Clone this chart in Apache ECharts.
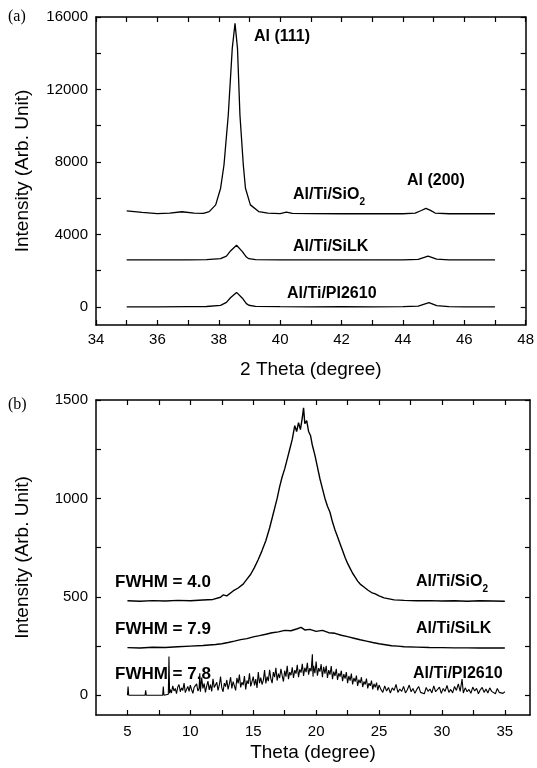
<!DOCTYPE html>
<html>
<head>
<meta charset="utf-8">
<script src="https://cdn.jsdelivr.net/npm/echarts@6/dist/echarts.min.js"></script>
<style>
    html, body { margin: 0; padding: 0; background: #fff; }
    #chart { width: 537px; height: 768px; }
</style>
</head>
<body>
<div id="chart"></div>
<script>
// (a) XRD 2theta scans, [2theta, intensity]
const sio2Scan = [[35,5300],[35.5,5220],[36,5150],[36.4,5170],[36.8,5250],[37.2,5170],[37.5,5160],[37.69,5260],[37.9,5630],[38.06,6550],[38.17,7830],[38.31,10590],[38.44,14270],[38.53,15650],[38.61,14270],[38.69,10590],[38.8,7830],[38.87,6550],[39.03,5630],[39.3,5260],[39.6,5170],[40,5150],[40.2,5230],[40.4,5160],[41,5150],[42,5140],[43,5150],[44,5140],[44.4,5180],[44.6,5320],[44.75,5440],[44.9,5330],[45.05,5180],[45.5,5140],[46,5150],[46.5,5140],[47,5140]];
const silkScan = [[35,2600],[36,2590],[37,2590],[37.6,2610],[38.06,2660],[38.25,2800],[38.39,3100],[38.58,3400],[38.77,3050],[38.9,2750],[38.98,2660],[39.2,2610],[40,2600],[41,2590],[42,2600],[43,2590],[44,2590],[44.5,2620],[44.82,2800],[45.1,2640],[45.5,2600],[46,2590],[47,2590]];
const piScan = [[35,0],[36,0],[37,10],[37.6,20],[38.06,80],[38.25,250],[38.39,520],[38.58,800],[38.77,480],[38.9,180],[38.98,90],[39.2,30],[40,10],[41,0],[42,10],[43,0],[44,10],[44.5,40],[44.85,230],[45.1,70],[45.5,10],[46,0],[47,0]];

// (b) rocking curves, [theta, intensity]
const sio2Rock = [[5,480],[6,478],[7,481],[8,479],[9,482],[10,480],[11,484],[11.8,487],[12.4,498],[12.6,510],[12.9,505],[13.4,530],[13.8,545],[14.2,565],[14.5,590],[14.8,615],[15.1,650],[15.4,690],[15.7,735],[16.0,785],[16.3,850],[16.6,925],[16.9,1000],[17.1,1060],[17.3,1110],[17.5,1150],[17.7,1200],[17.9,1250],[18.1,1300],[18.3,1370],[18.45,1340],[18.6,1385],[18.75,1350],[18.9,1410],[19.0,1460],[19.1,1380],[19.25,1395],[19.4,1340],[19.55,1320],[19.7,1270],[19.9,1220],[20.1,1160],[20.3,1100],[20.5,1050],[20.7,1000],[20.9,960],[21.1,930],[21.3,880],[21.5,840],[21.7,805],[21.9,770],[22.1,735],[22.3,700],[22.5,670],[22.7,645],[22.9,620],[23.1,600],[23.3,580],[23.5,565],[23.8,550],[24.1,535],[24.4,522],[24.7,515],[25.0,505],[25.4,495],[25.8,490],[26.2,485],[27,482],[28,480],[29,481],[30,479],[31,480],[32,478],[33,480],[34,479],[35,478]];
const silkRock = [[5,242],[6,240],[7,244],[8,243],[9,247],[10,250],[11,253],[12,258],[12.5,262],[13,268],[13.5,275],[14,283],[14.5,288],[15,297],[15.5,303],[16,310],[16.5,318],[17,322],[17.5,330],[18,328],[18.5,338],[18.8,345],[19.1,332],[19.5,335],[20,325],[20.5,330],[21,318],[21.5,315],[22,305],[22.5,298],[23,290],[23.5,282],[24,275],[24.5,268],[25,262],[25.5,257],[26,252],[26.5,250],[27,247],[28,245],[29,243],[30,242],[31,241],[32,241],[33,240],[34,240],[35,240]];
const piRock = [[5,0],[5.05,45],[5.1,0],[6.4,0],[6.45,25],[6.5,0],[7.8,0],[7.85,45],[7.9,0],[8.25,5],[8.3,197],[8.35,10],
    [8.4,30],[8.5,12],[8.6,48],[8.7,22],[8.8,35],[8.9,8],[9.0,42],[9.1,55],[9.2,18],[9.3,38],[9.4,25],[9.5,62],[9.6,14],[9.7,30],[9.8,45],[9.9,20],[10.0,52],[10.1,28],[10.2,10],[10.3,40],[10.4,33],[10.5,58],[10.6,22],[10.7,36],[10.75,112],[10.8,18],
    [10.9,90],[11.0,35],[11.1,60],[11.2,15],[11.3,48],[11.4,72],[11.5,28],[11.6,55],[11.7,20],[11.8,84],[11.9,40],[12.0,30],[12.1,66],[12.2,25],[12.3,50],[12.4,95],[12.5,38],[12.6,18],[12.7,62],[12.8,44],[12.9,78],[13.0,30],
    [13.1,58],[13.2,92],[13.3,35],[13.4,70],[13.5,48],[13.6,25],[13.7,88],[13.8,60],[13.9,105],[14.0,40],[14.1,66],[14.2,52],[14.3,98],[14.4,30],[14.5,75],[14.6,58],[14.7,112],[14.8,45],[14.9,70],[15.0,95],[15.1,50],[15.2,82],[15.3,38],[15.4,118],[15.5,62],[15.6,90],[15.7,55],[15.8,76],[15.9,128],[16.0,60],
    [16.1,95],[16.2,72],[16.3,130],[16.4,85],[16.5,62],[16.6,118],[16.7,92],[16.8,140],[16.9,75],[17.0,110],[17.1,88],[17.2,135],[17.3,100],[17.4,70],[17.5,125],[17.6,95],[17.7,150],[17.8,82],[17.9,118],[18.0,102],[18.1,142],[18.2,88],[18.3,128],[18.4,110],[18.5,155],[18.6,92],[18.7,132],[18.8,115],[18.9,160],[19.0,98],
    [19.1,140],[19.2,118],[19.3,165],[19.4,105],[19.5,138],[19.6,122],[19.7,208],[19.75,95],[19.8,150],[19.9,112],[20.0,172],[20.1,100],[20.2,138],[20.3,120],[20.4,158],[20.5,92],[20.6,145],[20.7,110],[20.8,150],[20.9,88],[21.0,128],[21.1,105],[21.2,148],[21.3,82],[21.4,120],[21.5,98],[21.6,135],[21.7,78],[21.8,112],[21.9,95],[22.0,125],
    [22.1,72],[22.2,108],[22.3,85],[22.4,118],[22.5,62],[22.6,98],[22.7,75],[22.8,110],[22.9,55],[23.0,88],[23.1,70],[23.2,100],[23.3,48],[23.4,80],[23.5,62],[23.6,92],[23.7,42],[23.8,70],[23.9,55],[24.0,85],[24.1,35],[24.2,62],[24.3,48],[24.4,75],[24.5,30],[24.6,58],[24.7,40],[24.8,65],[24.9,25],[25.0,52],
    [25.15,30],[25.3,15],[25.45,48],[25.6,22],[25.75,40],[25.9,12],[26.05,38],[26.2,25],[26.35,55],[26.5,15],[26.65,32],[26.8,20],[26.95,45],[27.1,12],[27.25,28],[27.4,52],[27.55,18],[27.7,35],[27.85,10],[28.0,30],[28.15,45],[28.3,15],[28.45,25],[28.6,8],[28.75,40],[28.9,20],[29.05,32],[29.2,12],[29.35,48],[29.5,18],[29.65,28],[29.8,42],[29.95,10],[30.1,35],[30.25,20],[30.4,50],[30.55,15],[30.7,30],[30.85,12],[31.0,45],[31.15,25],[31.3,58],[31.45,20],[31.6,82],[31.7,12],[31.85,38],[32.0,18],[32.15,30],[32.3,10],[32.45,42],[32.6,22],[32.75,35],[32.9,8],[33.05,28],[33.2,40],[33.35,15],[33.5,32],[33.65,12],[33.8,38],[33.95,20],[34.1,28],[34.25,8],[34.4,35],[34.55,15],[34.7,25],[34.85,10],[35.0,18]];

// ticks and tick labels
const xTicksA = [34,35,36,37,38,39,40,41,42,43,44,45,46,47,48];
const xLabelsA = [34,36,38,40,42,44,46,48];
const yTicksA = [0,2000,4000,6000,8000,10000,12000,14000,16000];
const yLabelsA = [0,4000,8000,12000,16000];
const xTicksB = [5,7.5,10,12.5,15,17.5,20,22.5,25,27.5,30,32.5,35];
const xLabelsB = [5,10,15,20,25,30,35];
const yTicksB = [0,250,500,750,1000,1250,1500];
const yLabelsB = [0,500,1000,1500];

const FONT = '"Liberation Sans", Arial, sans-serif';
var myChart = echarts.init(document.getElementById('chart'));

// one axis of a framed box; side = bottom/top/left/right
function frameAxis(side, grid, min, max, ticks, labels, name, nameGap, labelMargin) {
    var ax = {
        type: 'value',
        gridIndex: grid,
        position: side,
        min: min,
        max: max,
        splitLine: { show: false },
        axisLine: { show: true, onZero: false, lineStyle: { color: '#000', width: 1.5 } },
        axisTick: { show: true, inside: true, length: 5, customValues: ticks, lineStyle: { color: '#000', width: 1.2 } },
        axisLabel: { show: false }
    };
    if (labels) {
        ax.axisLabel = {
            show: true,
            customValues: labels,
            margin: labelMargin,
            color: '#000',
            fontSize: 15,
            fontFamily: FONT,
            formatter: function (v) { return String(v); }
        };
        ax.name = name;
        ax.nameLocation = 'middle';
        ax.nameGap = nameGap;
        ax.nameTextStyle = { color: '#000', fontSize: 19, fontFamily: FONT };
        if (side === 'left') ax.nameRotate = 90;
    }
    return ax;
}

function curve(data, xi, yi, w) {
    return {
        type: 'line',
        data: data,
        xAxisIndex: xi,
        yAxisIndex: yi,
        showSymbol: false,
        lineStyle: { color: '#000', width: w },
        animation: false
    };
}

function boldText(str, x, y, size) {
    return {
        type: 'text', x: x, y: y,
        style: { text: str, font: 'bold ' + (size || 16) + 'px ' + FONT, fill: '#000', textAlign: 'left', textVerticalAlign: 'middle' }
    };
}

function subText(x, y) {
    return {
        type: 'text', x: x, y: y,
        style: {
            text: '{m|Al/Ti/SiO}{s|2}',
            textAlign: 'left', textVerticalAlign: 'middle',
            rich: {
                m: { font: 'bold 16px ' + FONT, fill: '#000', lineHeight: 20, verticalAlign: 'top' },
                s: { font: 'bold 10px ' + FONT, fill: '#000', lineHeight: 10, verticalAlign: 'bottom' }
            }
        }
    };
}

var option = {
    backgroundColor: '#fff',
    animation: false,
    grid: [
        { left: 96, top: 17, width: 433, height: 308 },
        { left: 96, top: 400, width: 434, height: 315 }
    ],
    xAxis: [
        frameAxis('bottom', 0, 34, 48, xTicksA, xLabelsA, '2 Theta (degree)', 35, 7),
        frameAxis('top', 0, 34, 48, xTicksA),
        frameAxis('bottom', 1, 2.5, 37, xTicksB, xLabelsB, 'Theta (degree)', 28, 9),
        frameAxis('top', 1, 2.5, 37, xTicksB)
    ],
    yAxis: [
        frameAxis('left', 0, -1000, 16000, yTicksA, yLabelsA, 'Intensity (Arb. Unit)', 64, 8),
        frameAxis('right', 0, -1000, 16000, yTicksA),
        frameAxis('left', 1, -100, 1500, yTicksB, yLabelsB, 'Intensity (Arb. Unit)', 64, 8),
        frameAxis('right', 1, -100, 1500, yTicksB)
    ],
    series: [
        curve(sio2Scan, 0, 0, 1.3),
        curve(silkScan, 0, 0, 1.3),
        curve(piScan, 0, 0, 1.3),
        curve(sio2Rock, 2, 2, 1.4),
        curve(silkRock, 2, 2, 1.4),
        curve(piRock, 2, 2, 1.1)
    ],
    graphic: [
        { type: 'text', x: 8, y: 17, style: { text: '(a)', font: '16px "Liberation Serif", serif', fill: '#000', textVerticalAlign: 'middle' } },
        { type: 'text', x: 8, y: 405, style: { text: '(b)', font: '16px "Liberation Serif", serif', fill: '#000', textVerticalAlign: 'middle' } },
        boldText('Al (111)', 254, 37),
        boldText('Al (200)', 407, 181),
        subText(293, 197),
        boldText('Al/Ti/SiLK', 293, 247),
        boldText('Al/Ti/PI2610', 287, 294),
        boldText('FWHM = 4.0', 115, 582, 17),
        boldText('FWHM = 7.9', 115, 629, 17),
        boldText('FWHM = 7.8', 115, 674, 17),
        subText(416, 584),
        boldText('Al/Ti/SiLK', 416, 629),
        boldText('Al/Ti/PI2610', 413, 674)
    ]
};

myChart.setOption(option);
</script>
</body>
</html>
